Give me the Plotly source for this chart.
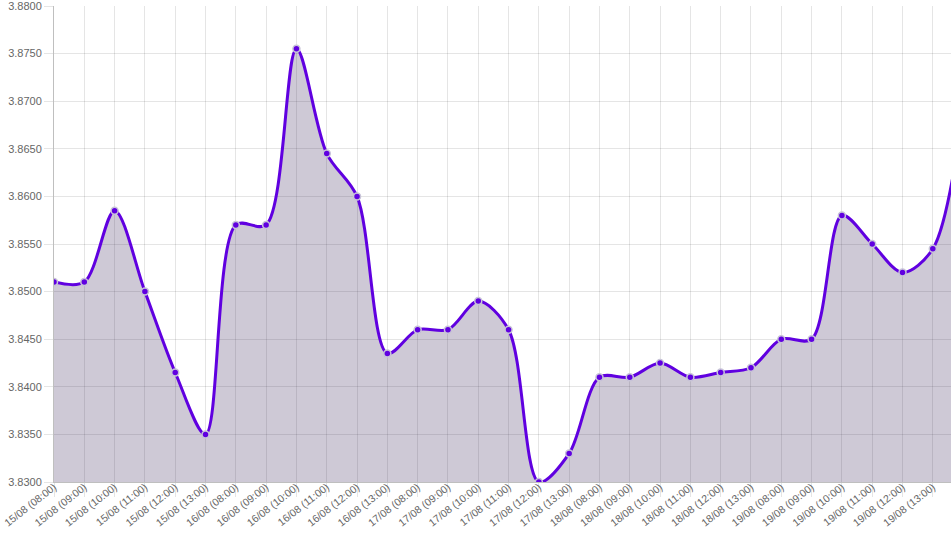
import plotly.graph_objects as go

categories = [
    "15/08 (08:00)", "15/08 (09:00)", "15/08 (10:00)", "15/08 (11:00)", "15/08 (12:00)", "15/08 (13:00)",
    "16/08 (08:00)", "16/08 (09:00)", "16/08 (10:00)", "16/08 (11:00)", "16/08 (12:00)", "16/08 (13:00)",
    "17/08 (08:00)", "17/08 (09:00)", "17/08 (10:00)", "17/08 (11:00)", "17/08 (12:00)", "17/08 (13:00)",
    "18/08 (08:00)", "18/08 (09:00)", "18/08 (10:00)", "18/08 (11:00)", "18/08 (12:00)", "18/08 (13:00)",
    "19/08 (08:00)", "19/08 (09:00)", "19/08 (10:00)", "19/08 (11:00)", "19/08 (12:00)", "19/08 (13:00)",
    "19/08 (14:00)",
]
values = [
    3.8510, 3.8510, 3.8585, 3.8500, 3.8415, 3.8350,
    3.8570, 3.8570, 3.8755, 3.8645, 3.8600, 3.8435,
    3.8460, 3.8460, 3.8490, 3.8460, 3.8300, 3.8330,
    3.8410, 3.8410, 3.8425, 3.8410, 3.8415, 3.8420,
    3.8450, 3.8450, 3.8580, 3.8550, 3.8520, 3.8545,
    3.8690,
]
y_ticks = [3.83, 3.835, 3.84, 3.845, 3.85, 3.855, 3.86, 3.865, 3.87, 3.875, 3.88]

x_idx = list(range(len(categories)))

fig = go.Figure()
fig.add_trace(go.Scatter(
    x=x_idx, y=values, mode="lines+markers",
    line=dict(color="#6000e0", width=3, shape="spline", smoothing=0.9),
    marker=dict(size=7, color="#6000e0", line=dict(color="#c8c4d8", width=1.5)),
    fill="tozeroy", fillcolor="rgba(60,40,90,0.25)",
    cliponaxis=True,
))

fig.update_layout(
    width=951, height=533,
    margin=dict(l=54, r=0, t=6, b=51),
    plot_bgcolor="white", paper_bgcolor="white",
    showlegend=False,
    font=dict(family="Liberation Sans, Arial, sans-serif", size=11, color="#666"),
)
fig.update_xaxes(
    range=[0, 29.6], automargin=False,
    tickmode="array", tickvals=x_idx, ticktext=categories,
    tickangle=-38, tickfont=dict(size=10.5, color="#666"),
    ticklabelstandoff=-20, ticklabeloverflow="allow",
    showgrid=True, gridcolor="rgba(0,0,0,0.1)", gridwidth=1,
    ticks="outside", ticklen=14, tickcolor="rgba(0,0,0,0.1)",
    showline=True, linecolor="rgba(0,0,0,0.25)", linewidth=1,
    zeroline=False,
)
fig.update_yaxes(
    range=[3.83, 3.88], automargin=False,
    tickmode="array", tickvals=y_ticks, ticktext=[f"{v:.4f}" for v in y_ticks],
    tickfont=dict(size=11, color="#666"), ticklabeloverflow="allow",
    showgrid=True, gridcolor="rgba(0,0,0,0.1)", gridwidth=1,
    ticks="outside", ticklen=9, tickcolor="rgba(0,0,0,0.1)",
    showline=True, linecolor="rgba(0,0,0,0.25)", linewidth=1,
    zeroline=False,
)

fig.write_html("out.html")
